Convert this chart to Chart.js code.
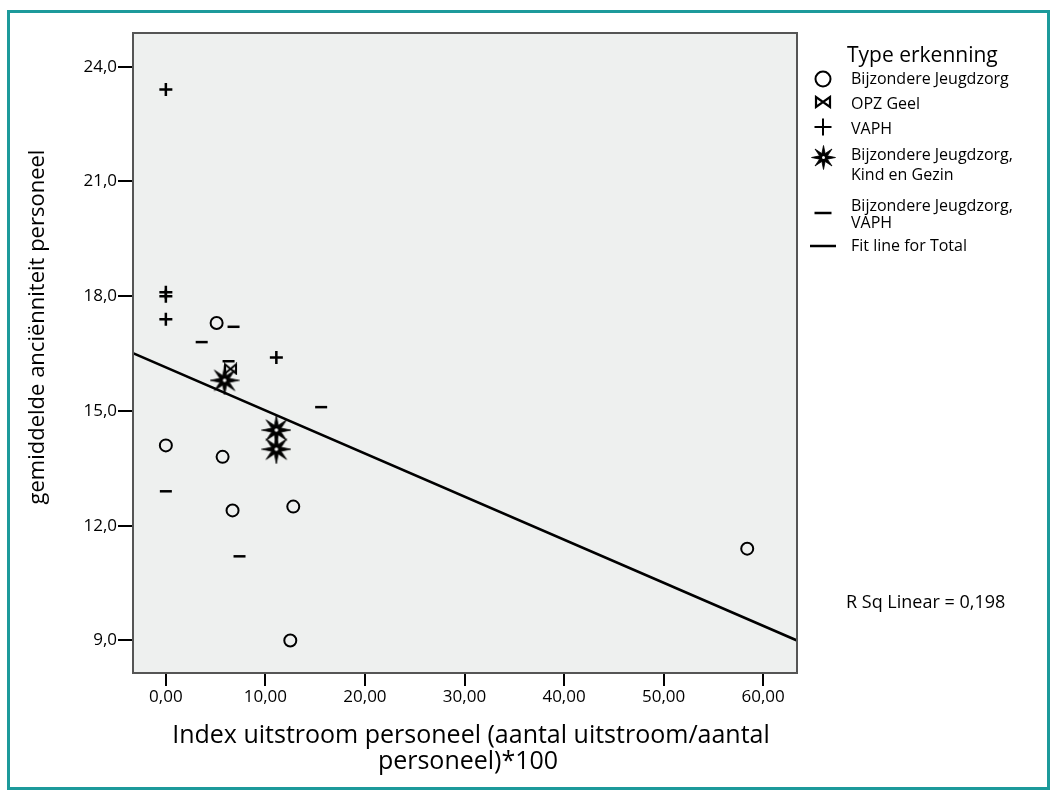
<!DOCTYPE html>
<html>
<head>
<meta charset="utf-8">
<title>Index uitstroom personeel - anciënniteit</title>
<script src="https://cdn.jsdelivr.net/npm/chart.js@4.4.1/dist/chart.umd.min.js"></script>
<style>
    html, body { margin: 0; padding: 0; background: #fff; }
    #wrap { position: relative; width: 1059px; height: 800px; }
    #frame {
        position: absolute; left: 7px; top: 10px; width: 1043px; height: 780px;
        box-sizing: border-box; border: 3px solid #1c9a9b;
    }
    #chart { position: absolute; left: 0; top: 0; }
</style>
</head>
<body>
<div id="wrap">
    <div id="frame"></div>
    <canvas id="chart" width="1059" height="800"></canvas>
</div>
<script>
// Scatter: gemiddelde anciënniteit vs index uitstroom, per type erkenning

const FONT = '"Open Sans", "DejaVu Sans", sans-serif';

// Series values
const jeugdzorgX = [5.1, 0.0, 5.7, 6.7, 12.8, 12.5, 58.4];
const jeugdzorgY = [17.3, 14.1, 13.8, 12.4, 12.5, 9.0, 11.4];
const opzGeelX = [6.5];
const opzGeelY = [16.1];
const vaphX = [0.0, 0.0, 0.0, 0.0, 11.1];
const vaphY = [23.4, 18.1, 18.0, 17.4, 16.4];
const kindGezinX = [5.9, 11.1, 11.1];
const kindGezinY = [15.8, 14.5, 14.0];
const jzVaphX = [6.8, 3.6, 6.3, 15.6, 0.0, 7.4];
const jzVaphY = [17.2, 16.8, 16.3, 15.1, 12.9, 11.2];

// Fit line for Total (end points where it meets the plot frame)
const fitX = [-3.3, 63.4];
const fitY = [16.51, 9.0];
const rSquared = '0,198';

// Tick labels
const xTickValues = [0, 10, 20, 30, 40, 50, 60];
const xTickLabels = ['0,00', '10,00', '20,00', '30,00', '40,00', '50,00', '60,00'];
const yTickValues = [9, 12, 15, 18, 21, 24];
const yTickLabels = ['9,0', '12,0', '15,0', '18,0', '21,0', '24,0'];

// Legend
const legendTitle = 'Type erkenning';
const legendLabels = [
    ['Bijzondere Jeugdzorg'],
    ['OPZ Geel'],
    ['VAPH'],
    ['Bijzondere Jeugdzorg,', 'Kind en Gezin'],
    ['Bijzondere Jeugdzorg,', 'VAPH'],
    ['Fit line for Total']
];

const xTitle = ['Index uitstroom personeel (aantal uitstroom/aantal', 'personeel)*100'];
const yTitle = 'gemiddelde anciënniteit personeel';

function toPoints(xs, ys) {
    return xs.map((x, i) => ({ x: x, y: ys[i] }));
}

// 8-pointed star marker with a light centre
function makeStar(size) {
    const c = document.createElement('canvas');
    c.width = c.height = size;
    const g = c.getContext('2d');
    const r = size / 2;
    g.beginPath();
    for (let i = 0; i < 16; i++) {
        const a = i * Math.PI / 8 - Math.PI / 2;
        const rr = i % 2 ? r * 0.34 : r - 0.5;
        g.lineTo(r + rr * Math.cos(a), r + rr * Math.sin(a));
    }
    g.closePath();
    g.fillStyle = '#000';
    g.fill();
    g.strokeStyle = '#000';
    g.lineWidth = 0.8;
    g.stroke();
    g.beginPath();
    g.arc(r, r, size * 0.06, 0, Math.PI * 2);
    g.fillStyle = '#f4f4f4';
    g.fill();
    return c;
}

// Bowtie marker (⋈)
function makeBowtie(w, h, lw) {
    const c = document.createElement('canvas');
    c.width = w + 4;
    c.height = h + 4;
    const g = c.getContext('2d');
    g.lineWidth = lw;
    g.strokeStyle = '#000';
    g.lineJoin = 'miter';
    g.beginPath();
    g.moveTo(2, 2);
    g.lineTo(2, h + 2);
    g.lineTo(w + 2, 2);
    g.lineTo(w + 2, h + 2);
    g.closePath();
    g.stroke();
    return c;
}

const starMarker = makeStar(30);
const starLegend = makeStar(25);
const bowtieMarker = makeBowtie(11, 9, 2);
const bowtieLegend = makeBowtie(14, 10, 2.2);

// Plot background and frame
const plotFrame = {
    id: 'plotFrame',
    beforeDraw(chart) {
        const a = chart.chartArea;
        const ctx = chart.ctx;
        ctx.save();
        ctx.fillStyle = '#eef0ef';
        ctx.fillRect(a.left, a.top, a.right - a.left, a.bottom - a.top);
        ctx.restore();
    },
    afterDatasetsDraw(chart) {
        const a = chart.chartArea;
        const ctx = chart.ctx;
        ctx.save();
        ctx.strokeStyle = '#555';
        ctx.lineWidth = 2;
        ctx.strokeRect(a.left, a.top, a.right - a.left, a.bottom - a.top);
        ctx.restore();
    }
};

// Axis titles, legend and R² note
const annotations = {
    id: 'annotations',
    afterDraw(chart) {
        const ctx = chart.ctx;
        ctx.save();
        ctx.fillStyle = '#000';
        ctx.textBaseline = 'middle';

        // y title
        ctx.save();
        ctx.translate(38, 327);
        ctx.rotate(-Math.PI / 2);
        ctx.textAlign = 'center';
        ctx.font = '22px ' + FONT;
        ctx.fillText(yTitle, 0, 0);
        ctx.restore();

        // x title
        ctx.textAlign = 'center';
        ctx.font = '25px ' + FONT;
        ctx.fillText(xTitle[0], 471, 736);
        ctx.fillText(xTitle[1], 468, 762);

        // legend
        ctx.textAlign = 'left';
        ctx.font = '21px ' + FONT;
        ctx.fillText(legendTitle, 847, 56);

        ctx.font = '16px ' + FONT;
        const rows = [[79], [104], [129], [155, 175], [206, 223], [246]];
        const iconY = [79, 102, 127, 157, 213, 246];
        legendLabels.forEach((lines, i) => {
            lines.forEach((t, j) => ctx.fillText(t, 851, rows[i][j]));
        });

        const ix = 823;
        ctx.strokeStyle = '#000';
        ctx.lineWidth = 2;
        ctx.beginPath();
        ctx.arc(ix, iconY[0], 7.5, 0, Math.PI * 2);
        ctx.stroke();
        ctx.drawImage(bowtieLegend, ix - bowtieLegend.width / 2, iconY[1] - bowtieLegend.height / 2);
        ctx.beginPath();
        ctx.moveTo(ix - 8.5, iconY[2]); ctx.lineTo(ix + 8.5, iconY[2]);
        ctx.moveTo(ix, iconY[2] - 8.5); ctx.lineTo(ix, iconY[2] + 8.5);
        ctx.stroke();
        ctx.drawImage(starLegend, Math.round(ix - starLegend.width / 2), Math.round(iconY[3] - starLegend.height / 2));
        ctx.lineWidth = 2.5;
        ctx.beginPath();
        ctx.moveTo(ix - 8.5, iconY[4]); ctx.lineTo(ix + 8.5, iconY[4]);
        ctx.stroke();
        ctx.beginPath();
        ctx.moveTo(810, iconY[5]); ctx.lineTo(836, iconY[5]);
        ctx.stroke();

        // R squared
        ctx.font = '18px ' + FONT;
        ctx.fillText('R Sq Linear = ' + rSquared, 846, 603);
        ctx.restore();
    }
};

const pointBase = { borderColor: '#000', backgroundColor: 'rgba(0,0,0,0)' };

new Chart(document.getElementById('chart'), {
    type: 'scatter',
    data: {
        datasets: [
            Object.assign({ label: legendLabels[0].join(' '), data: toPoints(jeugdzorgX, jeugdzorgY),
                pointStyle: 'circle', pointRadius: 6, borderWidth: 2 }, pointBase),
            Object.assign({ label: legendLabels[1].join(' '), data: toPoints(opzGeelX, opzGeelY),
                pointStyle: bowtieMarker, pointRadius: 6 }, pointBase),
            Object.assign({ label: legendLabels[2].join(' '), data: toPoints(vaphX, vaphY),
                pointStyle: 'cross', pointRadius: 6.5, borderWidth: 2.5 }, pointBase),
            Object.assign({ label: legendLabels[3].join(' '), data: toPoints(kindGezinX, kindGezinY),
                pointStyle: starMarker, pointRadius: 15 }, pointBase),
            Object.assign({ label: legendLabels[4].join(' '), data: toPoints(jzVaphX, jzVaphY),
                pointStyle: 'line', pointRadius: 6, borderWidth: 2.5 }, pointBase),
            {
                label: legendLabels[5][0],
                data: toPoints(fitX, fitY),
                showLine: true,
                pointRadius: 0,
                borderColor: '#000',
                borderWidth: 2.5,
                order: 10
            }
        ]
    },
    options: {
        responsive: false,
        animation: false,
        events: [],
        layout: { padding: { left: 0, top: 33, right: 262, bottom: 0 } },
        plugins: {
            legend: { display: false },
            tooltip: { enabled: false }
        },
        scales: {
            x: {
                type: 'linear',
                min: -3.3,
                max: 63.4,
                afterFit(scale) { scale.height = 127; },
                afterBuildTicks(scale) { scale.ticks = xTickValues.map(v => ({ value: v })); },
                ticks: {
                    callback: (v, i) => xTickLabels[i],
                    font: { family: FONT, size: 17 },
                    color: '#000',
                    padding: 1,
                    maxRotation: 0,
                    autoSkip: false
                },
                grid: { drawOnChartArea: false, drawTicks: true, tickLength: 13, tickColor: '#000', lineWidth: 2 },
                border: { display: false }
            },
            y: {
                type: 'linear',
                min: 8.15,
                max: 24.88,
                afterFit(scale) { scale.width = 133; },
                afterBuildTicks(scale) { scale.ticks = yTickValues.map(v => ({ value: v })); },
                ticks: {
                    callback: (v, i) => yTickLabels[i],
                    font: { family: FONT, size: 17 },
                    color: '#000',
                    padding: 1,
                    autoSkip: false
                },
                grid: { drawOnChartArea: false, drawTicks: true, tickLength: 15, tickColor: '#000', lineWidth: 2 },
                border: { display: false }
            }
        }
    },
    plugins: [plotFrame, annotations]
});
</script>
</body>
</html>
